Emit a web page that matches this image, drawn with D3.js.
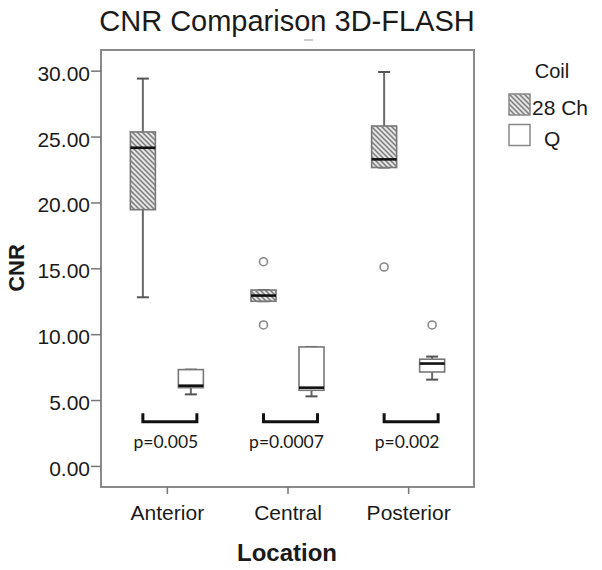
<!DOCTYPE html>
<html>
<head>
<meta charset="utf-8">
<script src="https://cdn.jsdelivr.net/npm/d3@7"></script>
<style>
  html, body { margin: 0; padding: 0; background: #fff; }
  svg { display: block; }
  text { font-family: "Liberation Sans", Arial, sans-serif; fill: #1a1a1a; }
</style>
</head>
<body>
<svg id="chart" width="602" height="570"></svg>
<script>
// ---- data ----
const categories = ["Anterior", "Central", "Posterior"];
const coils = ["28 Ch", "Q"];
// five-number summaries: [min whisker, Q1, median, Q3, max whisker]
const ch28Stats = [
  [12.8, 19.45, 24.15, 25.35, 29.4],
  [12.5, 12.5, 12.93, 13.35, 13.35],
  [22.65, 22.65, 23.27, 25.8, 29.9]
];
const qStats = [
  [5.43, 5.94, 6.09, 7.31, 7.31],
  [5.28, 5.74, 5.94, 9.03, 9.03],
  [6.55, 7.13, 7.77, 8.1, 8.3]
];
const ch28Outliers = [[], [15.5, 10.7], [15.1]];
const qOutliers = [[], [], [10.7]];
const pLabels = ["p=0.005", "p=0.0007", "p=0.002"];
const yTicks = [0, 5, 10, 15, 20, 25, 30];
const yDomain = [-1.6, 31.57];
const bracketRange = [3.35, 4.0];

// ---- layout ----
const svg = d3.select("#chart");
const plot = { left: 101, right: 474, top: 50, bottom: 487 };

const defs = svg.append("defs");
const pat = defs.append("pattern")
  .attr("id", "hatch").attr("patternUnits", "userSpaceOnUse")
  .attr("width", 5).attr("height", 5);
pat.append("rect").attr("width", 5).attr("height", 5).attr("fill", "#e4e4e4");
pat.append("path").attr("d", "M0,0 L5,5 M-1,4 L1,6 M4,-1 L6,1")
  .attr("stroke", "#7c7c7c").attr("stroke-width", 1.5);

const x = d3.scalePoint().domain(categories).range([plot.left, plot.right]).padding(0.546);
const x1 = d3.scaleBand().domain(coils).range([-48, 48]);
const boxW = 25;
const capW = 12;
const y = d3.scaleLinear().domain(yDomain).range([plot.bottom, plot.top]);

// title
svg.append("text").attr("x", 287).attr("y", 31).attr("text-anchor", "middle")
  .style("font-size", "29px").text("CNR Comparison 3D-FLASH");
svg.append("line").attr("x1", 304).attr("x2", 313).attr("y1", 40).attr("y2", 40)
  .attr("stroke", "#bbb").attr("stroke-width", 1.5);

// frame
svg.append("rect").attr("x", plot.left).attr("y", plot.top)
  .attr("width", plot.right - plot.left).attr("height", plot.bottom - plot.top)
  .attr("fill", "none").attr("stroke", "#8a8a8a").attr("stroke-width", 2);

// y axis
const yAxis = svg.append("g").attr("transform", `translate(${plot.left},0)`)
  .call(d3.axisLeft(y).tickValues(yTicks).tickFormat(d3.format(".2f")).tickSize(10).tickPadding(1));
yAxis.select(".domain").remove();
yAxis.selectAll(".tick line").attr("stroke", "#777").attr("stroke-width", 1.5);
yAxis.selectAll(".tick text").style("font-size", "21px").attr("fill", "#222")
  .attr("dy", "0.45em").style("font-family", '"Liberation Sans", Arial, sans-serif');

// x axis
const xAxis = svg.append("g").attr("transform", `translate(0,${plot.bottom})`)
  .call(d3.axisBottom(x).tickSize(7).tickPadding(11));
xAxis.select(".domain").remove();
xAxis.selectAll(".tick line").attr("stroke", "#777").attr("stroke-width", 1.5);
xAxis.selectAll(".tick text").style("font-size", "21px").attr("fill", "#222")
  .style("font-family", '"Liberation Sans", Arial, sans-serif');

// axis titles
svg.append("text").attr("x", 287).attr("y", 561).attr("text-anchor", "middle")
  .style("font-size", "24px").style("font-weight", "bold").text("Location");
svg.append("text").attr("transform", "translate(24,268) rotate(-90)").attr("text-anchor", "middle")
  .style("font-size", "22px").style("font-weight", "bold").text("CNR");

// boxes
function drawBox(cx, s, outs, fill) {
  const g = svg.append("g");
  const [mn, q1, md, q3, mx] = s;
  // whiskers
  g.append("line").attr("x1", cx).attr("x2", cx).attr("y1", y(q3)).attr("y2", y(mx))
    .attr("stroke", "#6a6a6a").attr("stroke-width", 2);
  g.append("line").attr("x1", cx).attr("x2", cx).attr("y1", y(q1)).attr("y2", y(mn))
    .attr("stroke", "#6a6a6a").attr("stroke-width", 2);
  [mn, mx].forEach(v => g.append("line").attr("x1", cx - capW / 2).attr("x2", cx + capW / 2)
    .attr("y1", y(v)).attr("y2", y(v)).attr("stroke", "#555").attr("stroke-width", 2));
  g.append("rect").attr("x", cx - boxW / 2).attr("y", y(q3))
    .attr("width", boxW).attr("height", Math.max(1, y(q1) - y(q3)))
    .attr("fill", fill).attr("stroke", "#777").attr("stroke-width", 1.6);
  g.append("line").attr("x1", cx - boxW / 2).attr("x2", cx + boxW / 2)
    .attr("y1", y(md)).attr("y2", y(md)).attr("stroke", "#111").attr("stroke-width", 2.6);
  outs.forEach(v => g.append("circle").attr("cx", cx).attr("cy", y(v)).attr("r", 4)
    .attr("fill", "#fff").attr("stroke", "#888").attr("stroke-width", 1.6));
}

categories.forEach((c, i) => {
  drawBox(x(c) + x1("28 Ch") + x1.bandwidth() / 2, ch28Stats[i], ch28Outliers[i], "url(#hatch)");
  drawBox(x(c) + x1("Q") + x1.bandwidth() / 2, qStats[i], qOutliers[i], "#fff");
  // significance bracket
  const bl = x(c) - 24, br = x(c) + 30;
  svg.append("path")
    .attr("d", `M${bl},${y(bracketRange[1])} V${y(bracketRange[0])} H${br} V${y(bracketRange[1])}`)
    .attr("fill", "none").attr("stroke", "#111").attr("stroke-width", 3);
  svg.append("text").attr("x", x(c) - 1).attr("y", 448).attr("text-anchor", "middle")
    .style("font-family", "Lato, 'Open Sans', sans-serif").style("font-size", "17.5px")
    .text(pLabels[i]);
});

// legend
svg.append("text").attr("x", 552).attr("y", 78).attr("text-anchor", "middle")
  .style("font-size", "20px").text("Coil");
svg.append("rect").attr("x", 509).attr("y", 94).attr("width", 21).attr("height", 21)
  .attr("fill", "url(#hatch)").attr("stroke", "#888").attr("stroke-width", 1.5);
svg.append("text").attr("x", 532).attr("y", 115).style("font-size", "21px").text(coils[0]);
svg.append("rect").attr("x", 509).attr("y", 124.5).attr("width", 21).attr("height", 21)
  .attr("fill", "#fff").attr("stroke", "#888").attr("stroke-width", 1.5);
svg.append("text").attr("x", 544).attr("y", 146).style("font-size", "21px").text(coils[1]);
</script>
</body>
</html>
